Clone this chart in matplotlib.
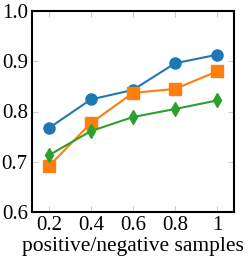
import matplotlib
matplotlib.use("Agg")
import matplotlib.pyplot as plt

ratios = [0.2, 0.4, 0.6, 0.8, 1.0]
blue_vals = [0.767, 0.824, 0.843, 0.896, 0.913]
orange_vals = [0.691, 0.777, 0.837, 0.845, 0.880]
green_vals = [0.713, 0.761, 0.789, 0.805, 0.822]
xtick_labels = ["0.2", "0.4", "0.6", "0.8", "1"]
ytick_vals = [0.6, 0.7, 0.8, 0.9, 1.0]

plt.rcParams['font.family'] = ['Liberation Serif', 'DejaVu Serif']
plt.rcParams['font.size'] = 15

fig = plt.figure(figsize=(2.5, 2.62), dpi=100)
ax = fig.add_axes([32 / 250, 50 / 262, 202 / 250, 201 / 262])

ax.plot(ratios, blue_vals, color='#1f77b4', marker='o', markersize=8, lw=1.5)
ax.plot(ratios, orange_vals, color='#ff7f0e', marker='s', markersize=8, lw=1.5)
ax.plot(ratios, green_vals, color='#2ca02c', marker='d', markersize=7, lw=1.5)

ax.set_xlim(0.12, 1.08)
ax.set_ylim(0.6, 1.0)
ax.set_xticks(ratios)
ax.set_xticklabels(xtick_labels)
ax.set_yticks(ytick_vals)
ax.set_yticklabels(["0.6", "0.7", "0.8", "0.9", "1.0"])
ax.tick_params(direction='in', color='#cccccc', length=4, top=True, right=True, labelsize=15, pad=3)
for s in ax.spines.values():
    s.set_linewidth(1.5)
ax.set_xlabel("positive/negative samples", fontsize=15.5, labelpad=1)

fig.savefig("out.png", dpi=100)
